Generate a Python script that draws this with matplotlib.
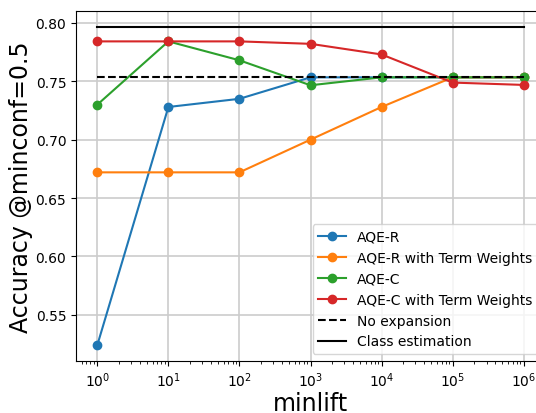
import matplotlib
matplotlib.use('Agg')
import matplotlib.pyplot as plt

minlift = [1, 10, 100, 1000, 10000, 100000, 1000000]

aqe_r = [0.524, 0.728, 0.735, 0.7534, 0.7534, 0.7534, 0.7534]
aqe_r_tw = [0.672, 0.672, 0.672, 0.700, 0.728, 0.7534, 0.7534]
aqe_c = [0.730, 0.7842, 0.768, 0.7466, 0.7534, 0.7534, 0.7534]
aqe_c_tw = [0.7842, 0.7842, 0.7842, 0.7821, 0.773, 0.7489, 0.7469]

no_expansion = 0.7534
class_estimation = 0.7966

fig = plt.figure(figsize=(5.36, 4.14), dpi=100)
# the original image is cropped on the right, so the axes run past the edge
ax = fig.add_axes([76 / 536, 52 / 414, 469 / 536, 350 / 414])

ax.plot(minlift, aqe_r, marker='o', color='#1f77b4', label='AQE-R')
ax.plot(minlift, aqe_r_tw, marker='o', color='#ff7f0e', label='AQE-R with Term Weights')
ax.plot(minlift, aqe_c, marker='o', color='#2ca02c', label='AQE-C')
ax.plot(minlift, aqe_c_tw, marker='o', color='#d62728', label='AQE-C with Term Weights')
ax.plot(minlift, [no_expansion] * len(minlift), 'k--', label='No expansion')
ax.plot(minlift, [class_estimation] * len(minlift), 'k-', label='Class estimation')

ax.set_xscale('log')
ax.grid(True, color='#cccccc', linewidth=1.2)
ax.set_xlabel('minlift', fontsize=17, labelpad=1)
ax.set_ylabel('Accuracy @minconf=0.5', fontsize=17, labelpad=2)
ax.legend(loc='lower right', fontsize=10)

fig.savefig('out.png', dpi=100)
